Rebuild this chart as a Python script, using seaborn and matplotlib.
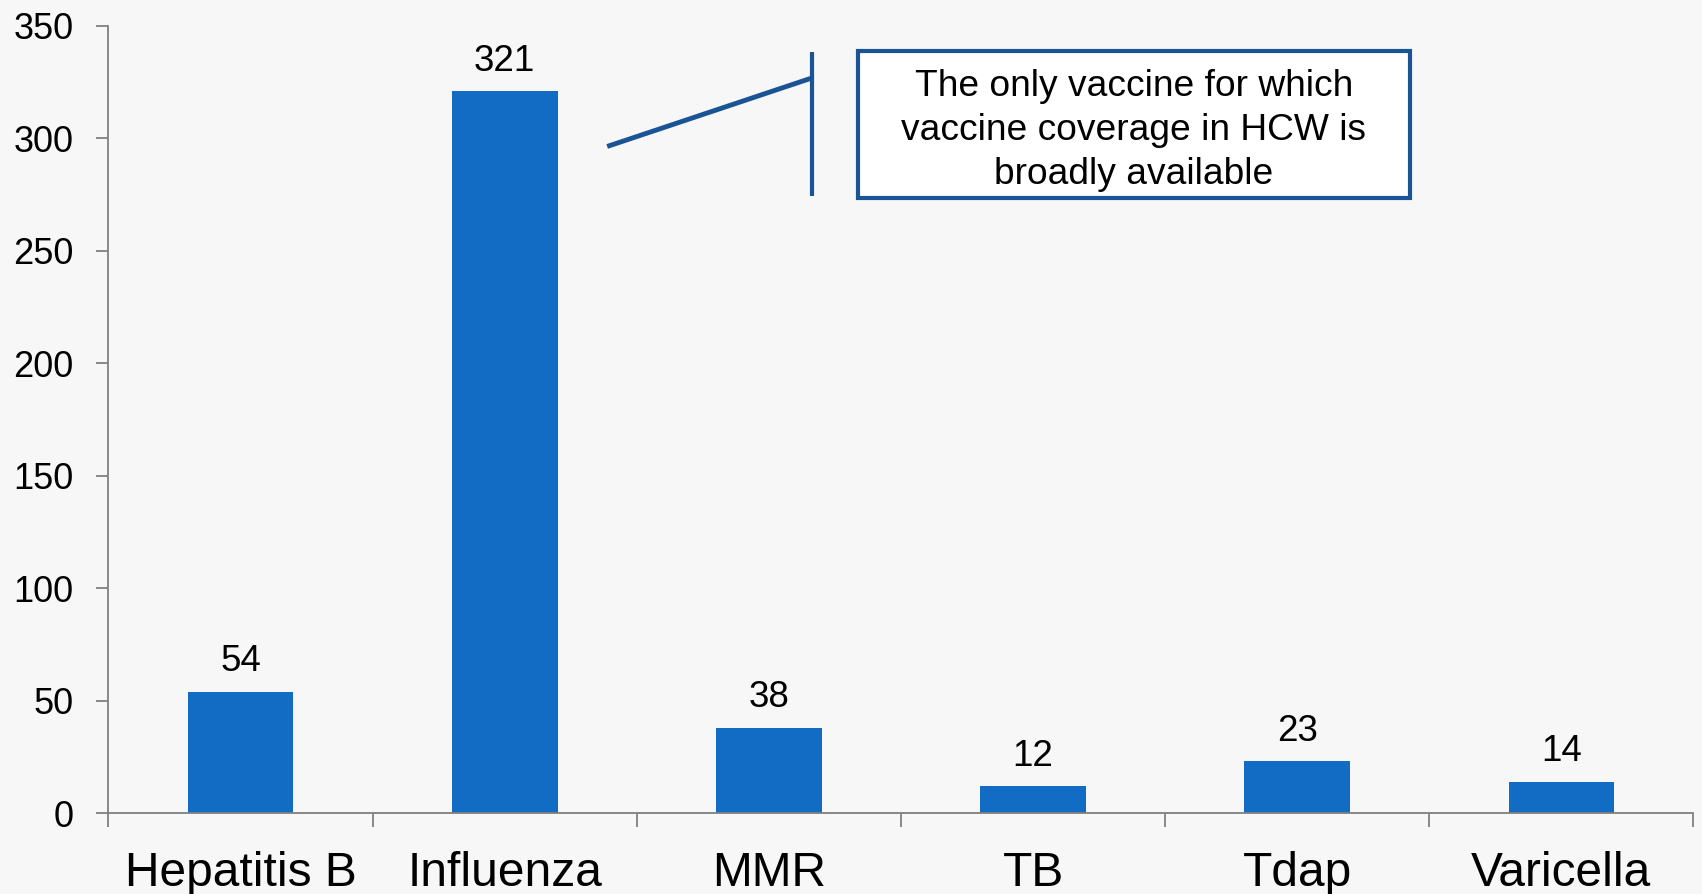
import matplotlib
matplotlib.use("Agg")
import matplotlib.pyplot as plt
import seaborn as sns
import pandas as pd
from matplotlib.patches import Rectangle

categories = ["Hepatitis B", "Influenza", "MMR", "TB", "Tdap", "Varicella"]
values = [54, 321, 38, 12, 23, 14]
yticks = [0, 50, 100, 150, 200, 250, 300, 350]
callout_text = "The only vaccine for which\nvaccine coverage in HCW is\nbroadly available"

sns.set_style("white")
plt.rcParams['font.family'] = ['Liberation Sans', 'DejaVu Sans']

bg = "#f7f7f7"
bar_color = "#136cc4"
axis_color = "#808080"
box_color = "#1a5494"

df = pd.DataFrame({"cat": categories, "val": values})

fig = plt.figure(figsize=(17.02, 8.94), dpi=100, facecolor=bg)
ax = fig.add_axes([0.0637, 0.0906, 0.995 - 0.0637, 0.971 - 0.0906])
ax.set_facecolor(bg)

sns.barplot(data=df, x="cat", y="val", color=bar_color, width=0.4,
            saturation=1, ax=ax, edgecolor="none")

ax.set_xlim(-0.5, len(categories) - 0.5)
ax.set_ylim(0, 350)
ax.set_yticks(yticks)
ax.set_xlabel("")
ax.set_ylabel("")

for c in ax.containers:
    ax.bar_label(c, labels=[str(v) for v in values], padding=9, fontsize=26.5, color="black")

# x ticks at category boundaries, labels at centers
ax.set_xticks([i - 0.5 for i in range(len(categories) + 1)])
ax.set_xticklabels([])
ax.set_xticks(range(len(categories)), minor=True)
ax.set_xticklabels(categories, minor=True, fontsize=34.5, color="black")
ax.tick_params(axis="x", which="major", length=10, width=1.3, color=axis_color, direction="out", bottom=True)
ax.tick_params(axis="x", which="minor", length=0, pad=27)
ax.tick_params(axis="y", length=9, width=1.3, color=axis_color, direction="out", left=True,
               labelsize=26, pad=16, labelcolor="black")

for s in ["top", "right"]:
    ax.spines[s].set_visible(False)
for s in ["left", "bottom"]:
    ax.spines[s].set_color(axis_color)
    ax.spines[s].set_linewidth(1.3)

# callout
ax.plot([1.388, 2.164], [296.4, 326.9], color=box_color, lw=3.5, solid_capstyle="butt", clip_on=False)
ax.plot([2.164, 2.164], [274.4, 338.4], color=box_color, lw=3, solid_capstyle="butt", clip_on=False)
ax.add_patch(Rectangle((2.336, 273.7), 4.428 - 2.336, 338.9 - 273.7, facecolor="white",
                       edgecolor=box_color, lw=3, clip_on=False, zorder=3))
ax.text((2.336 + 4.428) / 2, 303.6, callout_text, ha="center", va="center",
        fontsize=26.7, color="black", linespacing=1.33, zorder=4)

fig.savefig("out.png", dpi=100, facecolor=bg)
